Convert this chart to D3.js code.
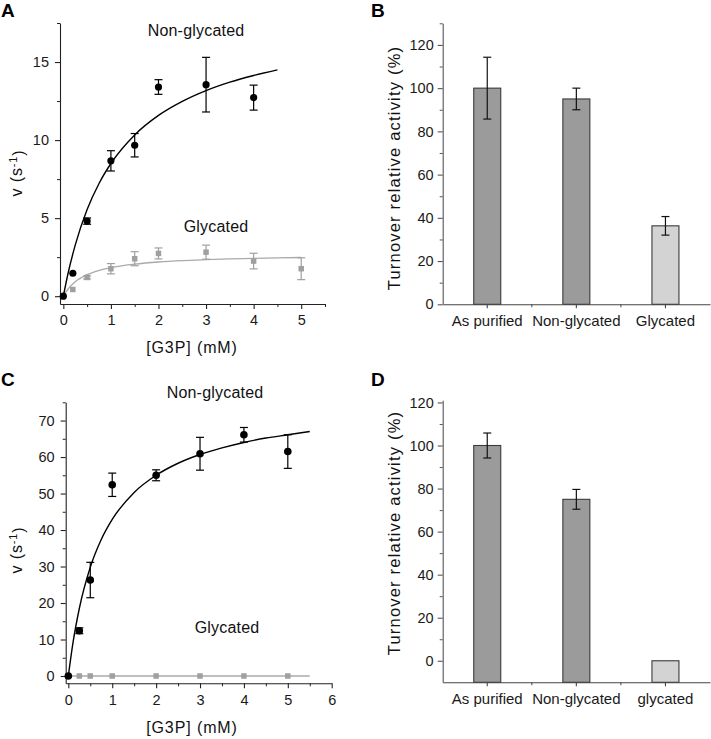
<!DOCTYPE html>
<html>
<head>
<meta charset="utf-8">
<script src="https://cdn.jsdelivr.net/npm/d3@7"></script>
<style>
  html, body { margin: 0; padding: 0; background: #fff; }
  svg { display: block; font-family: "Liberation Sans", Arial, sans-serif; }
</style>
</head>
<body>
<svg id="chart" width="711" height="739"></svg>
<script>
// ---------- Panel A data ----------
const aNonGlyX   = [0, 0.2, 0.5, 1, 1.5, 2, 3, 4];
const aNonGlyY   = [0, 1.47, 4.81, 8.67, 9.67, 13.4, 13.55, 12.72];
const aNonGlyErr = [0, 0, 0.2, 0.65, 0.75, 0.47, 1.75, 0.8];
const aGlyX      = [0.2, 0.5, 1, 1.5, 2, 3, 4, 5];
const aGlyY      = [0.43, 1.2, 1.76, 2.4, 2.74, 2.82, 2.25, 1.76];
const aGlyErr    = [0, 0.1, 0.33, 0.45, 0.35, 0.45, 0.5, 0.7];
// fit curves
const aFitNonX = [0, 0.1, 0.25, 0.5, 0.75, 1, 1.5, 2, 2.5, 3, 3.5, 4, 4.5];
const aFitNonY = [0, 1.47, 3.27, 5.55, 7.22, 8.5, 10.33, 11.58, 12.48, 13.17, 13.71, 14.14, 14.5];
const aFitGlyX = [0, 0.1, 0.25, 0.5, 0.75, 1, 1.5, 2, 2.5, 3, 3.5, 4, 4.5, 5];
const aFitGlyY = [0, 0.46, 0.92, 1.38, 1.65, 1.83, 2.05, 2.19, 2.28, 2.34, 2.39, 2.42, 2.45, 2.48];
const aXTicks = [0, 1, 2, 3, 4, 5];
const aYTicks = [0, 5, 10, 15];

// ---------- Panel B data ----------
const bCategories = ["As purified", "Non-glycated", "Glycated"];
const bValues     = [100, 95, 36.3];
const bErrors     = [14.3, 5, 4.3];
const bYTicks     = [0, 20, 40, 60, 80, 100, 120];

// ---------- Panel C data ----------
const cNonGlyX   = [0, 0.25, 0.5, 1, 2, 3, 4, 5];
const cNonGlyY   = [0, 12.4, 26.3, 52.4, 55, 60.9, 66.1, 61.5];
const cNonGlyErr = [0, 0.8, 4.85, 3.2, 1.5, 4.5, 2, 4.6];
const cGlyX      = [0.25, 0.5, 1, 2, 3, 4, 5];
const cGlyY      = [0, 0, 0, 0, 0, 0, 0];
const cFitNonX = [0, 0.1, 0.25, 0.5, 0.75, 1, 1.5, 2, 2.5, 3, 3.5, 4, 4.5, 5, 5.5];
const cFitNonY = [0, 8.66, 18.5, 29.8, 37.4, 42.9, 50.3, 55.0, 58.3, 60.7, 62.5, 64.0, 65.2, 66.1, 67.0];
const cFitGlyX = [0, 5.5];
const cFitGlyY = [0, 0];
const cXTicks = [0, 1, 2, 3, 4, 5, 6];
const cYTicks = [0, 10, 20, 30, 40, 50, 60, 70];

// ---------- Panel D data ----------
const dCategories = ["As purified", "Non-glycated", "glycated"];
const dValues     = [100, 75, 0];
const dErrors     = [5.8, 4.6, 0];
const dYTicks     = [0, 20, 40, 60, 80, 100, 120];

const BLACK = "#000";
const GRAY = "#a0a0a0";
const BAR_DARK = "#9b9b9b";
const BAR_LIGHT = "#d3d3d3";

const svg = d3.select("#chart");

function range(a, b, step) { const r = []; for (let v = a; v <= b + 1e-9; v += step) r.push(+v.toFixed(6)); return r; }

function styleAxis(g, color) {
  g.select(".domain").attr("stroke", color).attr("stroke-width", 1.1);
  g.selectAll(".tick line").attr("stroke", color).attr("stroke-width", 1.1);
  g.selectAll(".tick text").attr("fill", "#1a1a1a").attr("font-size", "14.5px")
    .attr("font-family", "'Liberation Sans', Arial, sans-serif");
}

function scatterPanel(o) {
  const g = svg.append("g");
  const x = d3.scaleLinear().domain(o.xDomain).range(o.xRange);
  const y = d3.scaleLinear().domain(o.yDomain).range(o.yRange);
  const axisColor = "#222";

  // minor ticks
  g.append("g").attr("transform", `translate(0,${o.yRange[0]})`)
    .call(d3.axisBottom(x).tickValues(o.xMinor).tickSize(3).tickFormat("").tickSizeOuter(0))
    .call(a => { a.select(".domain").remove(); a.selectAll("line").attr("stroke", axisColor); });
  g.append("g").attr("transform", `translate(${o.xRange[0]},0)`)
    .call(d3.axisLeft(y).tickValues(o.yMinor).tickSize(3).tickFormat("").tickSizeOuter(0))
    .call(a => { a.select(".domain").remove(); a.selectAll("line").attr("stroke", axisColor); });

  g.append("g").attr("transform", `translate(0,${o.yRange[0]})`)
    .call(d3.axisBottom(x).tickValues(o.xTicks).tickSize(5).tickPadding(6).tickSizeOuter(0).tickFormat(d3.format("d")))
    .call(a => styleAxis(a, axisColor));
  g.append("g").attr("transform", `translate(${o.xRange[0]},0)`)
    .call(d3.axisLeft(y).tickValues(o.yTicks).tickSize(5).tickPadding(6).tickSizeOuter(0).tickFormat(d3.format("d")))
    .call(a => styleAxis(a, axisColor));

  const line = d3.line().x(d => x(d[0])).y(d => y(d[1])).curve(d3.curveMonotoneX);

  // glycated (gray)
  g.append("path").datum(d3.zip(o.fitGlyX, o.fitGlyY)).attr("d", line)
    .attr("fill", "none").attr("stroke", "#aaa").attr("stroke-width", 1.3);
  const gly = d3.zip(o.glyX, o.glyY, o.glyErr || o.glyX.map(() => 0));
  const cap = 4;
  gly.forEach(d => {
    if (d[2] > 0) {
      g.append("line").attr("x1", x(d[0])).attr("x2", x(d[0])).attr("y1", y(d[1] - d[2])).attr("y2", y(d[1] + d[2])).attr("stroke", GRAY).attr("stroke-width", 1.2);
      [d[1] - d[2], d[1] + d[2]].forEach(v => g.append("line").attr("x1", x(d[0]) - cap).attr("x2", x(d[0]) + cap).attr("y1", y(v)).attr("y2", y(v)).attr("stroke", GRAY).attr("stroke-width", 1.2));
    }
  });
  g.selectAll(".sq").data(gly).join("rect")
    .attr("x", d => x(d[0]) - o.sq / 2).attr("y", d => y(d[1]) - o.sq / 2)
    .attr("width", o.sq).attr("height", o.sq).attr("fill", GRAY);

  // non-glycated (black)
  g.append("path").datum(d3.zip(o.fitNonX, o.fitNonY)).attr("d", line)
    .attr("fill", "none").attr("stroke", BLACK).attr("stroke-width", 1.4);
  const non = d3.zip(o.nonX, o.nonY, o.nonErr);
  non.forEach(d => {
    if (d[2] > 0) {
      g.append("line").attr("x1", x(d[0])).attr("x2", x(d[0])).attr("y1", y(d[1] - d[2])).attr("y2", y(d[1] + d[2])).attr("stroke", BLACK).attr("stroke-width", 1.2);
      [d[1] - d[2], d[1] + d[2]].forEach(v => g.append("line").attr("x1", x(d[0]) - cap).attr("x2", x(d[0]) + cap).attr("y1", y(v)).attr("y2", y(v)).attr("stroke", BLACK).attr("stroke-width", 1.2));
    }
  });
  g.selectAll(".dot").data(non).join("circle")
    .attr("cx", d => x(d[0])).attr("cy", d => y(d[1])).attr("r", o.r).attr("fill", BLACK);

  // labels
  g.append("text").attr("x", o.nonLabel[0]).attr("y", o.nonLabel[1]).attr("text-anchor", "middle")
    .attr("font-size", "16px").attr("letter-spacing", "0.2px").attr("fill", "#111").text("Non-glycated");
  g.append("text").attr("x", o.glyLabel[0]).attr("y", o.glyLabel[1]).attr("text-anchor", "middle")
    .attr("font-size", "16px").attr("letter-spacing", "0.2px").attr("fill", "#111").text("Glycated");

  const xt = g.append("text").attr("x", o.xTitle[0]).attr("y", o.xTitle[1]).attr("text-anchor", "middle")
    .attr("font-size", "16px").attr("letter-spacing", "0.9px").attr("fill", "#111").text("[G3P] (mM)");
  const yt = g.append("text").attr("transform", `translate(${o.yTitle[0]},${o.yTitle[1]}) rotate(-90)`)
    .attr("text-anchor", "middle").attr("font-size", "16px").attr("letter-spacing", "0.9px").attr("fill", "#111");
  yt.append("tspan").text("v (s");
  yt.append("tspan").attr("dy", "-0.45em").attr("font-size", "11px").text("-1");
  yt.append("tspan").attr("dy", "0.45em").text(")");

  svg.append("text").attr("x", o.letter[0]).attr("y", o.letter[1]).attr("font-size", "19px")
    .attr("font-weight", "bold").attr("fill", "#000").text(o.letterText);
}

function barPanel(o) {
  const g = svg.append("g");
  const x = d3.scaleBand().domain(o.categories).range(o.xRange);
  const y = d3.scaleLinear().domain(o.yDomain).range(o.yRange);
  const axisColor = "#555";
  const bw = 27;

  // minor y ticks
  g.append("g").attr("transform", `translate(${o.xRange[0]},0)`)
    .call(d3.axisLeft(y).tickValues(o.yMinor).tickSize(3).tickFormat("").tickSizeOuter(0))
    .call(a => { a.select(".domain").remove(); a.selectAll("line").attr("stroke", axisColor); });
  // minor x ticks at band boundaries
  const bounds = o.categories.slice(1).map(c => x(c));
  g.selectAll(".bnd").data(bounds).join("line")
    .attr("x1", d => d).attr("x2", d => d).attr("y1", o.yRange[0]).attr("y2", o.yRange[0] + 3)
    .attr("stroke", axisColor).attr("stroke-width", 1.1);

  // bars
  g.selectAll(".bar").data(d3.zip(o.categories, o.values, o.colors)).join("rect")
    .attr("x", d => x(d[0]) + x.bandwidth() / 2 - bw / 2)
    .attr("y", d => y(d[1]))
    .attr("width", bw)
    .attr("height", d => y(o.yDomain[0]) - y(d[1]))
    .attr("fill", d => d[2]).attr("stroke", "#3a3a3a").attr("stroke-width", 1.1);

  // error bars
  const cap = 4;
  d3.zip(o.categories, o.values, o.errors).forEach(d => {
    if (d[2] <= 0) return;
    const cx = x(d[0]) + x.bandwidth() / 2;
    g.append("line").attr("x1", cx).attr("x2", cx).attr("y1", y(d[1] - d[2])).attr("y2", y(d[1] + d[2])).attr("stroke", "#111").attr("stroke-width", 1.2);
    [d[1] - d[2], d[1] + d[2]].forEach(v => g.append("line").attr("x1", cx - cap).attr("x2", cx + cap).attr("y1", y(v)).attr("y2", y(v)).attr("stroke", "#111").attr("stroke-width", 1.2));
  });

  g.append("g").attr("transform", `translate(0,${o.yRange[0]})`)
    .call(d3.axisBottom(x).tickSize(4).tickPadding(7).tickSizeOuter(0))
    .call(a => { styleAxis(a, "#444"); a.selectAll(".tick text").attr("font-size", "15px"); });
  g.append("g").attr("transform", `translate(${o.xRange[0]},0)`)
    .call(d3.axisLeft(y).tickValues(o.yTicks).tickSize(5).tickPadding(4).tickSizeOuter(0))
    .call(a => styleAxis(a, axisColor));

  g.append("text").attr("transform", `translate(${o.yTitle[0]},${o.yTitle[1]}) rotate(-90)`)
    .attr("text-anchor", "middle").attr("font-size", "16.5px").attr("letter-spacing", "1.2px")
    .attr("fill", "#111").text("Turnover relative activity (%)");

  svg.append("text").attr("x", o.letter[0]).attr("y", o.letter[1]).attr("font-size", "19px")
    .attr("font-weight", "bold").attr("fill", "#000").text(o.letterText);
}

scatterPanel({
  xDomain: [-0.07, 5.5], xRange: [60, 325],
  yDomain: [-0.5, 17.5], yRange: [304, 23],
  xTicks: aXTicks, yTicks: aYTicks,
  xMinor: range(0.5, 5.5, 1), yMinor: range(2.5, 17.5, 5),
  nonX: aNonGlyX, nonY: aNonGlyY, nonErr: aNonGlyErr,
  glyX: aGlyX, glyY: aGlyY, glyErr: aGlyErr,
  fitNonX: aFitNonX, fitNonY: aFitNonY, fitGlyX: aFitGlyX, fitGlyY: aFitGlyY,
  r: 3.6, sq: 5.5,
  nonLabel: [196, 36], glyLabel: [216, 232],
  xTitle: [192, 353], yTitle: [22, 173],
  letter: [1, 17], letterText: "A"
});

barPanel({
  categories: bCategories, values: bValues, errors: bErrors,
  colors: [BAR_DARK, BAR_DARK, BAR_LIGHT],
  xRange: [442.7, 710], yDomain: [0, 130], yRange: [304.3, 23.3],
  yTicks: bYTicks, yMinor: range(10, 130, 20),
  yTitle: [400, 168], letter: [371, 17], letterText: "B"
});

scatterPanel({
  xDomain: [-0.06, 6], xRange: [65.7, 331.7],
  yDomain: [-2, 75], yRange: [683.3, 402.3],
  xTicks: cXTicks, yTicks: cYTicks,
  xMinor: range(0.5, 5.5, 1), yMinor: range(5, 75, 10),
  nonX: cNonGlyX, nonY: cNonGlyY, nonErr: cNonGlyErr,
  glyX: cGlyX, glyY: cGlyY, glyErr: null,
  fitNonX: cFitNonX, fitNonY: cFitNonY, fitGlyX: cFitGlyX, fitGlyY: cFitGlyY,
  r: 3.8, sq: 5.5,
  nonLabel: [215, 398], glyLabel: [227, 633],
  xTitle: [192, 733], yTitle: [22, 550],
  letter: [1, 386], letterText: "C"
});

barPanel({
  categories: dCategories, values: dValues, errors: dErrors,
  colors: [BAR_DARK, BAR_DARK, BAR_LIGHT],
  xRange: [442.7, 710], yDomain: [-10, 121], yRange: [682.3, 400.3],
  yTicks: dYTicks, yMinor: range(10, 110, 20),
  yTitle: [400, 533], letter: [371, 386], letterText: "D"
});
</script>
</body>
</html>
